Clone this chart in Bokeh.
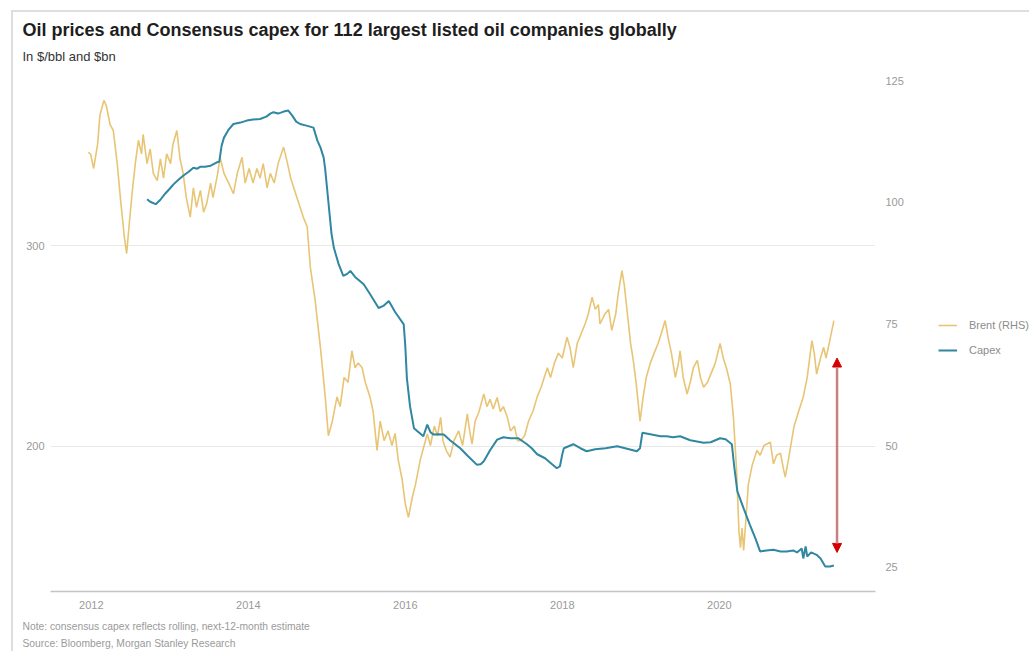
from bokeh.plotting import figure
from bokeh.layouts import row
from bokeh.models import (Range1d, LinearAxis, FixedTicker, Legend, LegendItem,
                          Title, Arrow, NormalHead)
from bokeh.embed import file_html
from bokeh.resources import INLINE

# ---------------- data ----------------
brent_t = [2011.96, 2011.99, 2012.03, 2012.08, 2012.11, 2012.16, 2012.19, 2012.24, 2012.28, 2012.33,
           2012.37, 2012.42, 2012.45, 2012.48, 2012.52, 2012.56, 2012.60, 2012.64, 2012.66, 2012.71,
           2012.75, 2012.79, 2012.84, 2012.88, 2012.92, 2012.96, 2013.01, 2013.04, 2013.09, 2013.13,
           2013.17, 2013.21, 2013.26, 2013.30, 2013.34, 2013.39, 2013.43, 2013.47, 2013.52, 2013.55,
           2013.61, 2013.64, 2013.69, 2013.75, 2013.81, 2013.86, 2013.92, 2013.96, 2014.01, 2014.06,
           2014.11, 2014.15, 2014.19, 2014.24, 2014.28, 2014.33, 2014.38, 2014.45, 2014.50, 2014.54,
           2014.58, 2014.62, 2014.66, 2014.70, 2014.75, 2014.79, 2014.85, 2014.92, 2014.98, 2015.02,
           2015.07, 2015.13, 2015.17, 2015.22, 2015.27, 2015.32, 2015.36, 2015.40, 2015.45, 2015.49,
           2015.55, 2015.59, 2015.64, 2015.68, 2015.73, 2015.78, 2015.83, 2015.87, 2015.91, 2015.96,
           2016.00, 2016.04, 2016.09, 2016.13, 2016.19, 2016.24, 2016.28, 2016.32, 2016.37, 2016.41,
           2016.45, 2016.48, 2016.52, 2016.57, 2016.62, 2016.68, 2016.73, 2016.79, 2016.82, 2016.85,
           2016.89, 2016.94, 2017.00, 2017.04, 2017.08, 2017.12, 2017.17, 2017.21, 2017.25, 2017.30,
           2017.34, 2017.39, 2017.43, 2017.47, 2017.52, 2017.57, 2017.63, 2017.68, 2017.73, 2017.81,
           2017.85, 2017.90, 2017.95, 2018.00, 2018.06, 2018.10, 2018.14, 2018.19, 2018.24, 2018.29,
           2018.33, 2018.38, 2018.42, 2018.46, 2018.48, 2018.54, 2018.59, 2018.63, 2018.68, 2018.71,
           2018.76, 2018.79, 2018.83, 2018.87, 2018.90, 2018.94, 2018.99, 2019.03, 2019.07, 2019.12,
           2019.17, 2019.22, 2019.26, 2019.31, 2019.35, 2019.39, 2019.44, 2019.48, 2019.50, 2019.54,
           2019.59, 2019.63, 2019.67, 2019.72, 2019.76, 2019.80, 2019.85, 2019.90, 2019.95, 2020.01,
           2020.05, 2020.09, 2020.14, 2020.18, 2020.22, 2020.25, 2020.27, 2020.29, 2020.31, 2020.34,
           2020.37, 2020.42, 2020.48, 2020.52, 2020.57, 2020.65, 2020.69, 2020.73, 2020.78, 2020.82,
           2020.84, 2020.88, 2020.95, 2021.01, 2021.07, 2021.12, 2021.18, 2021.21, 2021.24, 2021.29,
           2021.33, 2021.36, 2021.40, 2021.46]
brent = [110.3, 110, 107, 112, 118, 121, 120, 116, 114.8, 108,
         101, 93, 89.5, 95, 102, 108, 112.8, 110, 114, 108,
         111, 106, 104.5, 109, 105, 110, 108, 112, 114.8, 109,
         106, 101, 97, 103, 99, 102.5, 98, 99.8, 104, 101,
         106, 109.3, 106, 104, 101.8, 106, 109.3, 104, 107, 104,
         107, 105, 108, 103, 106, 104, 108, 111.4, 108, 105,
         103, 101, 99, 97, 95, 86.7, 80, 70, 60, 52,
         55, 60, 58, 64, 63, 69.5, 66, 67, 66, 63,
         60, 57, 49, 55, 51, 53, 50, 52.5, 47, 43,
         38, 35.2, 39.4, 42, 47, 50, 52.4, 50, 54, 52,
         55.8, 51, 49, 47.6, 51, 53, 50, 56.5, 53, 50.3,
         55, 57, 60.6, 58, 59.5, 57.5, 59.9, 57, 58, 55.8,
         53, 54, 51, 51, 52, 55, 57.2, 60, 62, 66,
         64, 67, 69, 68, 72.3, 70, 66, 71, 73, 75,
         77, 80.5, 78, 79, 75, 77, 78, 73.7, 77, 81,
         86, 83, 77, 71, 68, 63, 55, 60, 64, 66.9,
         69, 71, 73, 75.7, 72, 69, 64, 67, 69.5, 64,
         60.6, 63, 66, 67.5, 64, 62, 63, 65, 67, 71,
         68, 66, 62.7, 55.8, 45, 32.5, 29, 33, 28.4, 35,
         42, 46, 49, 48, 50, 50.7, 46.2, 48, 48.4, 45,
         43.5, 47, 53.8, 57, 60, 64, 71.6, 69, 64.7, 68,
         70.2, 68, 71, 75.7]

capex_t = [2012.71, 2012.75, 2012.82, 2012.88, 2012.94, 2013.01, 2013.05, 2013.11, 2013.17, 2013.24,
           2013.30, 2013.35, 2013.39, 2013.45, 2013.52, 2013.60, 2013.63, 2013.66, 2013.69, 2013.75,
           2013.81, 2013.90, 2013.98, 2014.06, 2014.15, 2014.23, 2014.28, 2014.32, 2014.38, 2014.45,
           2014.51, 2014.56, 2014.61, 2014.66, 2014.74, 2014.83, 2014.88, 2014.92, 2014.96, 2014.98,
           2015.02, 2015.06, 2015.09, 2015.15, 2015.21, 2015.26, 2015.30, 2015.36, 2015.47, 2015.55,
           2015.66, 2015.72, 2015.79, 2015.87, 2015.98, 2016.00, 2016.02, 2016.06, 2016.11, 2016.17,
           2016.23, 2016.28, 2016.32, 2016.36, 2016.42, 2016.49, 2016.57, 2016.70, 2016.80, 2016.91,
           2016.96, 2017.00, 2017.08, 2017.17, 2017.25, 2017.34, 2017.44, 2017.55, 2017.61, 2017.68,
           2017.78, 2017.87, 2017.93, 2017.97, 2018.00, 2018.02, 2018.08, 2018.14, 2018.23, 2018.31,
           2018.42, 2018.55, 2018.70, 2018.80, 2018.95, 2018.99, 2019.02, 2019.12, 2019.25, 2019.33,
           2019.41, 2019.50, 2019.63, 2019.80, 2019.89, 2019.95, 2020.01, 2020.08, 2020.16, 2020.19,
           2020.23, 2020.31, 2020.39, 2020.46, 2020.52, 2020.60, 2020.69, 2020.78, 2020.86, 2020.94,
           2020.99, 2021.05, 2021.07, 2021.10, 2021.12, 2021.17, 2021.24, 2021.29, 2021.32, 2021.35,
           2021.41, 2021.46]
capex = [323.3, 322, 320.8, 323, 326, 329, 330.8, 333, 335, 337,
         339, 338.5, 339.5, 339.5, 340, 341.7, 342, 350, 354, 358,
         360.8, 361.5, 362.5, 363, 363.3, 364.5, 366, 366.7, 366, 367,
         367.5, 365, 362, 360.8, 360, 359, 352.5, 349, 344, 338,
         322, 306, 299, 291, 285, 286, 287.5, 284.5, 280.8, 276,
         269, 270, 272.5, 267, 260.8, 250, 234, 220, 209, 207,
         205, 210.8, 207, 205.8, 206, 205.8, 203, 199, 195, 190.8,
         191, 192.5, 198, 203.3, 204.5, 204, 204, 201, 199, 196,
         194, 191, 189, 190, 196, 199, 200, 201, 199, 197.5,
         198.5, 199, 200, 199, 197.5, 199, 206.7, 206, 205, 205,
         204.5, 205, 203, 201.7, 202, 203, 204, 203.5, 201, 190,
         177.5, 169, 160.8, 154, 147.5, 148, 148.3, 147.5, 147.5, 148,
         147, 149, 144, 150, 145, 147, 145.8, 144, 142, 140,
         140, 140.5]

x_ticks = [2012, 2014, 2016, 2018, 2020]
x_tick_labels = ["2012", "2014", "2016", "2018", "2020"]
left_ticks = [200, 300]
right_ticks = [25, 50, 75, 100, 125]

gap_x = 2021.50
gap_top = 244
gap_bottom = 147

series_names = ["Brent (RHS)", "Capex"]

title_text = "Oil prices and Consensus capex for 112 largest listed oil companies globally"
subtitle_text = "In $/bbl and $bn"
note_text = "Note: consensus capex reflects rolling, next-12-month estimate"
source_text = "Source: Bloomberg, Morgan Stanley Research"

# ---------------- main figure ----------------
FONT = "Liberation Sans"
BRENT_COL = "#E8C575"
CAPEX_COL = "#2F87A1"
TICK_COL = "#9a9a9a"

p = figure(width=896, height=641, output_backend="svg", toolbar_location=None,
           x_range=Range1d(2011.48, 2021.99), y_range=Range1d(127.5, 387.5),
           min_border_left=39, min_border_right=32, min_border_top=60,
           min_border_bottom=60)
p.border_fill_color = None
p.background_fill_color = "white"
p.outline_line_color = None
p.extra_y_ranges = {"brent": Range1d(19.96, 127.16)}

xa = p.xaxis[0]
xa.ticker = FixedTicker(ticks=x_ticks)
xa.major_label_overrides = {t: l for t, l in zip(x_ticks, x_tick_labels)}
xa.axis_line_color = "#c4c4c4"
xa.axis_line_width = 1.5
xa.major_tick_line_color = None
xa.minor_tick_line_color = None
xa.major_tick_out = 0
xa.major_tick_in = 0
xa.major_label_standoff = 9
xa.major_label_text_color = TICK_COL
xa.major_label_text_font = FONT
xa.major_label_text_font_size = "11px"

ya = p.yaxis[0]
ya.ticker = FixedTicker(ticks=left_ticks)
ya.axis_line_color = None
ya.major_tick_line_color = None
ya.minor_tick_line_color = None
ya.major_tick_out = 0
ya.major_tick_in = 0
ya.major_label_standoff = 6
ya.major_label_text_color = TICK_COL
ya.major_label_text_font = FONT
ya.major_label_text_font_size = "11px"

ra = LinearAxis(y_range_name="brent", ticker=FixedTicker(ticks=right_ticks))
ra.axis_line_color = None
ra.major_tick_line_color = None
ra.minor_tick_line_color = None
ra.major_tick_out = 0
ra.major_tick_in = 0
ra.major_label_standoff = 10
ra.major_label_text_color = TICK_COL
ra.major_label_text_font = FONT
ra.major_label_text_font_size = "11px"
p.add_layout(ra, "right")

p.xgrid.grid_line_color = None
p.ygrid.grid_line_color = "#e9e9e9"
p.ygrid.grid_line_width = 1.2

r_brent = p.line(brent_t, brent, y_range_name="brent", line_color=BRENT_COL, line_width=1.6)
r_capex = p.line(capex_t, capex, line_color=CAPEX_COL, line_width=2)

p.add_layout(Arrow(x_start=gap_x, y_start=gap_bottom, x_end=gap_x, y_end=gap_top,
                   line_color="#c98080", line_width=2.5,
                   start=NormalHead(size=9, fill_color="#d40000", line_color="#d40000"),
                   end=NormalHead(size=9, fill_color="#d40000", line_color="#d40000")))

# titles (first added to "above" sits nearest the plot)
p.add_layout(Title(text=subtitle_text, align="left", offset=-28, standoff=14,
                   text_font=FONT, text_font_size="13px", text_font_style="normal",
                   text_color="#333333"), "above")
p.add_layout(Title(text=title_text, align="left", offset=-28, standoff=0,
                   text_font=FONT, text_font_size="18px", text_font_style="bold",
                   text_color="#1e1e1e"), "above")

# footnotes
p.add_layout(Title(text=note_text, align="left", offset=-28, standoff=15,
                   text_font=FONT, text_font_size="10.3px", text_font_style="normal",
                   text_color=TICK_COL), "below")
p.add_layout(Title(text=source_text, align="left", offset=-28, standoff=-8,
                   text_font=FONT, text_font_size="10.3px", text_font_style="normal",
                   text_color=TICK_COL), "below")

# ---------------- legend strip (series drawn off-range, only their keys show) ----------------
lg = figure(width=122, height=641, output_backend="svg", toolbar_location=None,
            x_range=Range1d(0, 1), y_range=Range1d(0, 1),
            x_axis_location=None, y_axis_location=None,
            min_border=0, min_border_left=0, min_border_right=0,
            min_border_top=0, min_border_bottom=0)
lg.border_fill_color = None
lg.background_fill_color = None
lg.outline_line_color = None
lg.xgrid.visible = False
lg.ygrid.visible = False
k_brent = lg.line(brent_t, brent, line_color=BRENT_COL, line_width=1.6)
k_capex = lg.line(capex_t, capex, line_color=CAPEX_COL, line_width=2)
legend = Legend(items=[LegendItem(label=series_names[0], renderers=[k_brent]),
                       LegendItem(label=series_names[1], renderers=[k_capex])],
                location=(31, 231), orientation="vertical",
                margin=0, padding=0, spacing=5, glyph_width=19, glyph_height=20,
                label_standoff=12, label_text_font=FONT, label_text_font_size="11px",
                label_text_color="#8c8c8c", border_line_color=None,
                background_fill_alpha=0)
lg.add_layout(legend, "center")

layout = row(p, lg, margin=(10, 0, 0, 11), spacing=0)
layout.styles = {
    "background": "linear-gradient(#dedede,#dedede) 0 0 / 100% 2px no-repeat, "
                  "linear-gradient(#dedede,#dedede) 0 0 / 2px 100% no-repeat, white",
}

open("out.html", "w").write(file_html(layout, INLINE))
